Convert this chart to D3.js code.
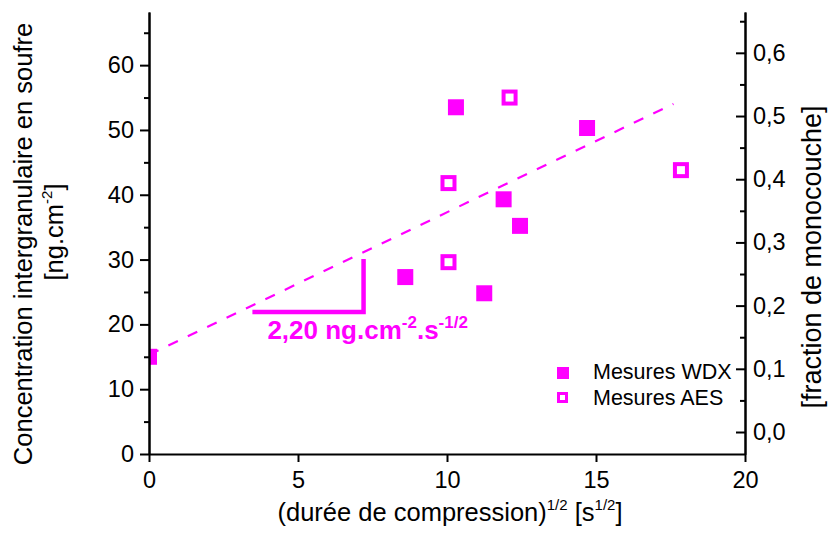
<!DOCTYPE html>
<html><head><meta charset="utf-8">
<script src="https://cdn.jsdelivr.net/npm/d3@7"></script>
<style>
html,body{margin:0;padding:0;background:#fff;}
svg{display:block;font-family:"Liberation Sans",Arial,sans-serif;}
</style></head>
<body><svg id="chart" width="830" height="540"></svg>
<script>
// ---- data ----
const xTicks = [0, 5, 10, 15, 20];
const yLeftTicks = [0, 10, 20, 30, 40, 50, 60];
const yLeftMinor = [5, 15, 25, 35, 45, 55, 65];
const yRightTicks = [0, 0.1, 0.2, 0.3, 0.4, 0.5, 0.6];
const yRightMinor = [0.05, 0.15, 0.25, 0.35, 0.45, 0.55, 0.65];
const wdxX = [0, 8.6, 10.3, 11.25, 11.9, 12.45, 14.7];
const wdxY = [15.0, 27.3, 53.5, 24.8, 39.3, 35.2, 50.3];
const aesX = [10.05, 10.05, 12.1, 17.85];
const aesY = [41.8, 29.6, 55.0, 43.8];
const fitSlope = 2.2, fitIntercept = 15.3, fitXRange = [0, 17.6];
const slopeTriX = [3.47, 7.2];   // horizontal leg of slope triangle
const slopeTriY = 21.9;
const legendLabels = ["Mesures WDX", "Mesures AES"];
const color = "#ff00ff";

const svg = d3.select("#chart");
const L = 149, R = 745, T = 12, B = 454;
const x = d3.scaleLinear().domain([0, 20]).range([L, R]);
const y = d3.scaleLinear().domain([0, 68.2]).range([B, T]);
const y2 = d3.scaleLinear().domain([-0.0348, 0.6646]).range([B, T]);
const TICKFS = 23.5, TITLEFS = 25.5;

svg.append("defs").append("clipPath").attr("id", "clip")
  .append("rect").attr("x", L).attr("y", T).attr("width", R - L).attr("height", B - T);

const plot = svg.append("g").attr("clip-path", "url(#clip)");

// fit line
plot.append("line")
  .attr("x1", x(fitXRange[0])).attr("y1", y(fitIntercept + fitSlope * fitXRange[0]))
  .attr("x2", x(fitXRange[1])).attr("y2", y(fitIntercept + fitSlope * fitXRange[1]))
  .attr("stroke", color).attr("stroke-width", 2.2).attr("stroke-dasharray", "10.5,11");

// slope triangle
const triTopY = slopeTriY + fitSlope * (slopeTriX[1] - slopeTriX[0]);
plot.append("path")
  .attr("d", `M${x(slopeTriX[0])},${y(slopeTriY)}H${x(slopeTriX[1])}V${y(triTopY)}`)
  .attr("fill", "none").attr("stroke", color).attr("stroke-width", 4.5);

// WDX filled squares
plot.selectAll("rect.wdx").data(wdxX.map((d, i) => [d, wdxY[i]])).enter()
  .append("rect").attr("class", "wdx")
  .attr("x", d => x(d[0]) - 8).attr("y", d => y(d[1]) - 8)
  .attr("width", 16).attr("height", 16).attr("fill", color);

// AES open squares
plot.selectAll("rect.aes").data(aesX.map((d, i) => [d, aesY[i]])).enter()
  .append("rect").attr("class", "aes")
  .attr("x", d => x(d[0]) - 6).attr("y", d => y(d[1]) - 6)
  .attr("width", 12).attr("height", 12).attr("fill", "#fff")
  .attr("stroke", color).attr("stroke-width", 4);

// axes
function styleAxis(g) {
  g.selectAll(".domain").attr("stroke", "#000").attr("stroke-width", 2);
  g.selectAll(".tick line").attr("stroke", "#000").attr("stroke-width", 2);
  g.selectAll(".tick text").attr("fill", "#000").attr("font-size", TICKFS)
    .attr("font-family", "Liberation Sans, Arial, sans-serif");
}
const xAxis = svg.append("g").attr("transform", `translate(0,${B})`)
  .call(d3.axisBottom(x).tickValues(xTicks).tickSize(8).tickSizeOuter(0).tickPadding(9).tickFormat(d3.format("d")));
styleAxis(xAxis);

const yMinorAxis = svg.append("g").attr("transform", `translate(${L},0)`)
  .call(d3.axisLeft(y).tickValues(yLeftMinor).tickSize(5).tickSizeOuter(0).tickFormat(""));
styleAxis(yMinorAxis);
const yAxis = svg.append("g").attr("transform", `translate(${L},0)`)
  .call(d3.axisLeft(y).tickValues(yLeftTicks).tickSize(9).tickSizeOuter(0).tickPadding(6).tickFormat(d3.format("d")));
styleAxis(yAxis);

const fr = d3.formatLocale({decimal: ",", thousands: " ", grouping: [3], currency: ["", ""]}).format(".1f");
const y2Minor = svg.append("g").attr("transform", `translate(${R},0)`)
  .call(d3.axisRight(y2).tickValues(yRightMinor).tickSize(-5).tickSizeOuter(0).tickFormat(""));
styleAxis(y2Minor);
const y2Axis = svg.append("g").attr("transform", `translate(${R},0)`)
  .call(d3.axisRight(y2).tickValues(yRightTicks).tickSize(-9).tickSizeOuter(0).tickPadding(8).tickFormat(fr));
styleAxis(y2Axis);

// axis titles
const xt = svg.append("text").attr("x", (L + R) / 2 + 3).attr("y", 521).attr("text-anchor", "middle")
  .attr("font-size", TITLEFS).attr("fill", "#000");
xt.append("tspan").text("(durée de compression)");
xt.append("tspan").attr("font-size", 15).attr("dy", -11).text("1/2");
xt.append("tspan").attr("dy", 11).text(" [s");
xt.append("tspan").attr("font-size", 15).attr("dy", -11).text("1/2");
xt.append("tspan").attr("dy", 11).text("]");

svg.append("text").attr("transform", "translate(32,244) rotate(-90)")
  .attr("text-anchor", "middle").attr("font-size", TITLEFS).attr("fill", "#000")
  .text("Concentration intergranulaire en soufre");
const yt2 = svg.append("text").attr("transform", "translate(63,232) rotate(-90)")
  .attr("text-anchor", "middle").attr("font-size", TITLEFS).attr("fill", "#000");
yt2.append("tspan").text("[ng.cm");
yt2.append("tspan").attr("font-size", 15).attr("dy", -11).text("-2");
yt2.append("tspan").attr("dy", 11).text("]");

svg.append("text").attr("transform", "translate(821,257) rotate(-90)")
  .attr("text-anchor", "middle").attr("font-size", 27).attr("fill", "#000")
  .text("[fraction de monocouche]");

// slope annotation
const ann = svg.append("text").attr("x", x(slopeTriX[0]) + 15).attr("y", 339)
  .attr("font-size", 26).attr("font-weight", "bold").attr("fill", color);
ann.append("tspan").text("2,20 ng.cm");
ann.append("tspan").attr("font-size", 17).attr("dy", -11).text("-2");
ann.append("tspan").attr("dy", 11).text(".s");
ann.append("tspan").attr("font-size", 17).attr("dy", -11).text("-1/2");

// legend
const lg = svg.append("g");
lg.append("rect").attr("x", 557).attr("y", 367).attr("width", 12).attr("height", 12).attr("fill", color);
lg.append("rect").attr("x", 558.5).attr("y", 393.5).attr("width", 8).attr("height", 8)
  .attr("fill", "#fff").attr("stroke", color).attr("stroke-width", 3);
legendLabels.forEach((t, i) => {
  lg.append("text").attr("x", 593).attr("y", 379 + i * 25.5).attr("font-size", 21.5).attr("fill", "#000").text(t);
});
</script></body></html>
